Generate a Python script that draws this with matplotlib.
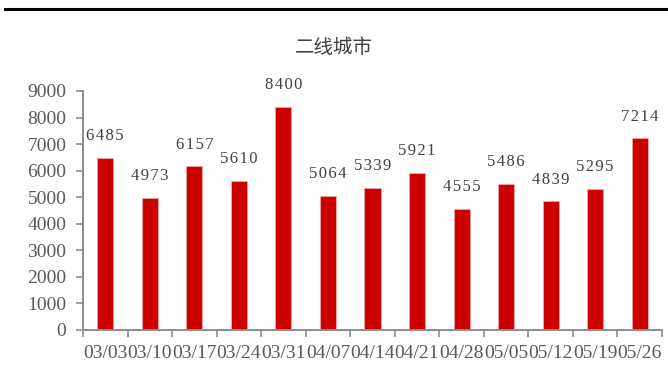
import matplotlib
matplotlib.use("Agg")
import matplotlib.pyplot as plt
from matplotlib.lines import Line2D
import numpy as np

dates = ["03/03", "03/10", "03/17", "03/24", "03/31", "04/07", "04/14",
         "04/21", "04/28", "05/05", "05/12", "05/19", "05/26"]
values = [6485, 4973, 6157, 5610, 8400, 5064, 5339,
          5921, 4555, 5486, 4839, 5295, 7214]
yticks = [0, 1000, 2000, 3000, 4000, 5000, 6000, 7000, 8000, 9000]

plt.rcParams['font.family'] = ['Liberation Serif', 'DejaVu Serif']

axis_grey = '#8c8c8c'
text_grey = '#595959'
bar_red = '#cc0000'

fig = plt.figure(figsize=(6.68, 3.87), dpi=100)
ax = fig.add_axes([0.1243, 0.1473, 0.8667, 0.6176])

x = np.arange(len(values))
bars = ax.bar(x, values, width=0.36, color=bar_red,
              edgecolor='#f2a6a6', linewidth=0.6)

# letter-spaced value labels above each bar
for xi, v in zip(x, values):
    ax.annotate('\u200a'.join(str(v)), (xi, v), xytext=(0, 10),
                textcoords='offset points', ha='center', va='bottom',
                fontsize=12, color='#404040')

ax.set_xlim(-0.5, len(values) - 0.5)
ax.set_ylim(0, 9000)
ax.set_yticks(yticks)
ax.set_xticks(x)
ax.set_xticklabels(dates)
ax.set_xticks(np.arange(len(values) + 1) - 0.5, minor=True)

ax.tick_params(axis='x', which='major', length=0, pad=11,
               labelsize=14, labelcolor=text_grey)
ax.tick_params(axis='x', which='minor', length=5, width=1.2,
               color=axis_grey, direction='out')
ax.tick_params(axis='y', length=5, width=1.2, color=axis_grey, pad=7,
               labelsize=14, labelcolor=text_grey)

for side in ['top', 'right']:
    ax.spines[side].set_visible(False)
for side in ['left', 'bottom']:
    ax.spines[side].set_color(axis_grey)
    ax.spines[side].set_linewidth(1.4)

fig.text(0.5, 0.878, '二线城市', ha='center', va='center', fontsize=14,
         color='#404040', family=['Noto Sans CJK SC', 'DejaVu Sans'],
         fontweight='light')

# heavy rule across the top of the page
fig.add_artist(Line2D([5 / 668, 1.0], [1 - 9 / 387, 1 - 9 / 387],
                      color='black', linewidth=2.2,
                      transform=fig.transFigure))

fig.savefig('out.png', dpi=100)
